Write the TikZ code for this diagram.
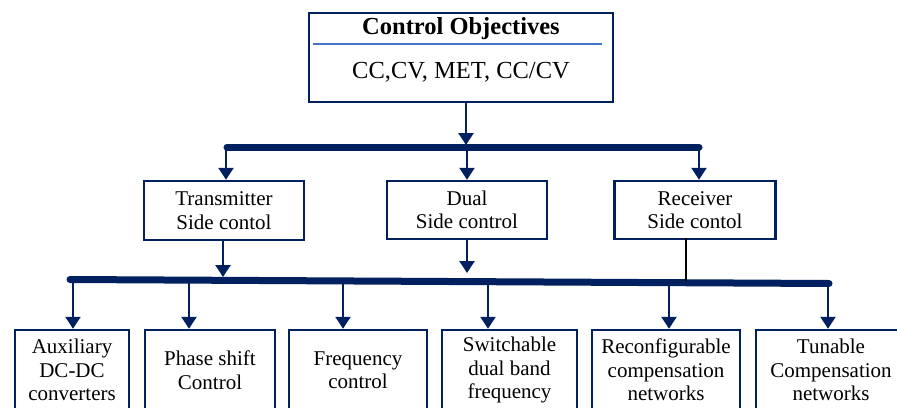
\documentclass[tikz,border=0pt]{standalone}
\usepackage{fontspec}
\setmainfont{Liberation Serif}
\usetikzlibrary{arrows.meta}
\definecolor{navy}{RGB}{0,32,96}
\definecolor{sepblue}{RGB}{68,114,196}
\begin{document}
\begin{tikzpicture}[x=1pt,y=-1pt,
  box/.style={draw=navy, line width=2.5pt, rectangle, inner sep=0pt, align=center, text=black, font=\fontsize{21}{23.5}\selectfont},
  arr/.style={draw=navy, line width=2.5pt, -{Triangle[width=15pt,length=12pt]}},
  bus/.style={draw=navy, line width=7pt, line cap=round}]
\useasboundingbox (0,0) rectangle (897,407);
\clip (0,0) rectangle (897,407);
\fill[white] (0,0) rectangle (897,407);

% top box
\node[box, minimum width=304, minimum height=89] (top) at (461,57.5) {};
\node[font=\fontsize{24.5}{28}\bfseries\selectfont] (title) at (461,29) {Control Objectives};
\node[font=\fontsize{24.5}{28}\selectfont] (obj) at (461,72) {CC,CV, MET, CC/CV};
\draw[sepblue, line width=1.8pt] (313,44) -- (602,44);

% first bus
\coordinate (b1L) at (227,147);
\coordinate (b1R) at (699,147);
\draw[bus] (b1L) -- (b1R);
\coordinate (j0) at (466,145);
\draw[arr] (j0 |- top.south) -- (j0);

% middle boxes
\node[box, minimum width=160, minimum height=59] (T) at (224,210.5) {Transmitter\\Side contol};
\node[box, minimum width=160, minimum height=58] (D) at (467,210) {Dual\\Side control};
\node[box, minimum width=161, minimum height=58] (R) at (695,210) {Receiver\\Side contol};

\coordinate (m1) at (226,147);
\coordinate (m2) at (467,147);
\coordinate (m3) at (699,147);
\draw[arr] (m1) -- (m1 |- T.north);
\draw[arr] (m2) -- (m2 |- D.north);
\draw[arr] (m3) -- (m3 |- R.north);

% second bus
\coordinate (L2) at (70,279.5);
\coordinate (R2) at (829,283.5);
\draw[bus] (L2) -- (R2);

\coordinate (d1) at (223,277);
\coordinate (d2) at (467,273);
\coordinate (d3) at (686,281);
\draw[arr] (d1 |- T.south) -- (d1);
\draw[arr] (d2 |- D.south) -- (d2);
\draw[black, line width=2.5pt] ([yshift=2pt]d3 |- R.south) -- (d3);

% bottom boxes
\node[box, minimum width=114, minimum height=80] (b1) at (72,370) {Auxiliary\\DC-DC\\converters};
\node[box, minimum width=130, minimum height=80] (b2) at (210,370) {Phase shift\\Control};
\node[box, minimum width=138, minimum height=80] (b3) at (358,370) {Frequency\\control};
\node[box, minimum width=135, minimum height=80] (b4) at (509.5,370) {Switchable\\dual band\\frequency};
\node[box, minimum width=148, minimum height=80] (b5) at (666,370) {Reconfigurable\\compensation\\networks};
\node[box, minimum width=150, minimum height=80] (b6) at (831,370) {Tunable\\Compensation\\networks};

\coordinate (p1) at (73,281);
\coordinate (p2) at (189,281);
\coordinate (p3) at (343,281);
\coordinate (p4) at (488,282);
\coordinate (p5) at (669,282);
\coordinate (p6) at (828,283);
\draw[arr] (p1) -- (p1 |- b1.north);
\draw[arr] (p2) -- (p2 |- b2.north);
\draw[arr] (p3) -- (p3 |- b3.north);
\draw[arr] (p4) -- (p4 |- b4.north);
\draw[arr] (p5) -- (p5 |- b5.north);
\draw[arr] (p6) -- (p6 |- b6.north);
\end{tikzpicture}
\end{document}
